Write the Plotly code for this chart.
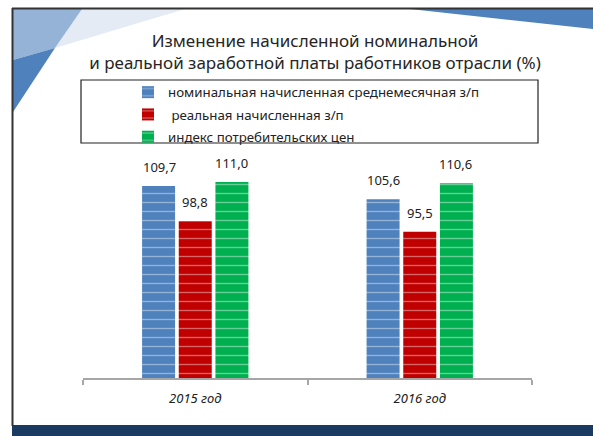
import plotly.graph_objects as go

# Data
categories = ["2015 год", "2016 год"]
series_names = ["номинальная начисленная среднемесячная з/п",
                " реальная начисленная з/п",
                "индекс потребительских цен"]
nominal = [109.7, 105.6]
real = [98.8, 95.5]
cpi = [111.0, 110.6]
values = [nominal, real, cpi]
colors = ["#4f81bd", "#c00000", "#00b050"]

W, H = 593, 436
L, R, T, B = 83, 61, 153, 58


def px_x(p):
    return (p - L) / (W - L - R)


def px_y(p):
    return (H - B - p) / (H - T - B)


fig = go.Figure()
for i, (name, vals, col) in enumerate(zip(series_names, values, colors)):
    fig.add_trace(go.Bar(
        x=categories, y=vals, name=name, legendgroup=str(i),
        marker=dict(color=col, line=dict(width=0),
                    pattern=dict(shape="-", fgcolor="rgba(255,255,255,0.8)",
                                 size=9, solidity=0.15)),
    ))

# data labels above bars
offsets = [-36, 0, 36]
for vals, dx in zip(values, offsets):
    for cat, v in zip(categories, vals):
        fig.add_annotation(x=cat, y=v, xref="x", yref="y", xshift=dx, yshift=8,
                           text=f"{v:.1f}".replace(".", ","), showarrow=False,
                           yanchor="bottom", font=dict(size=13, color="#222222"))

shapes = []
# decorative corner shapes
def poly(pts, color):
    d = "M " + " L ".join(f"{px_x(a):.4f},{px_y(b):.4f}" for a, b in pts) + " Z"
    return dict(type="path", path=d, xref="paper", yref="paper",
                fillcolor=color, line=dict(width=0), layer="below")

shapes.append(poly([(82, 9), (185, 9), (55, 48)], "#e4ebf5"))
shapes.append(poly([(13, 9), (82, 9), (55, 48), (13, 60)], "#95b3d7"))
shapes.append(poly([(13, 60), (55, 48), (13, 112)], "#4f81bd"))
shapes.append(poly([(410, 9), (593, 9), (593, 29)], "#4f81bd"))
# navy bottom band
shapes.append(dict(type="rect", xref="paper", yref="paper",
                   x0=px_x(12), x1=px_x(593), y0=px_y(436), y1=px_y(425),
                   fillcolor="#1b3a61", line=dict(width=0)))
# frame lines
shapes.append(dict(type="line", xref="paper", yref="paper",
                   x0=px_x(12), x1=px_x(593), y0=px_y(8.5), y1=px_y(8.5),
                   line=dict(color="#333333", width=2)))
shapes.append(dict(type="line", xref="paper", yref="paper",
                   x0=px_x(12.5), x1=px_x(12.5), y0=px_y(8), y1=px_y(426),
                   line=dict(color="#333333", width=2)))
# legend frame
shapes.append(dict(type="rect", xref="paper", yref="paper",
                   x0=px_x(81), x1=px_x(538), y0=px_y(143), y1=px_y(80),
                   line=dict(color="#222222", width=1.2)))

fig.update_layout(
    width=W, height=H,
    margin=dict(l=L, r=R, t=T, b=B, autoexpand=False),
    paper_bgcolor="white", plot_bgcolor="white",
    font=dict(family="Noto Sans", color="#222222"),
    title=dict(text="Изменение начисленной номинальной<br>и реальной заработной платы работников отрасли (%)",
               x=315 / W, xanchor="center", xref="container",
               y=1 - 47 / H, yanchor="middle", yref="container",
               font=dict(size=17, color="#262626")),
    barmode="group", bargap=0.51, bargroupgap=0.1,
    showlegend=True,
    legend=dict(xref="container", yref="container", x=128 / W, y=1 - 77 / H,
                xanchor="left", yanchor="top", bgcolor="rgba(0,0,0,0)",
                borderwidth=0, traceorder="grouped", tracegroupgap=2,
                font=dict(size=13.3, color="#222222")),
    xaxis=dict(showline=True, linecolor="#a6a6a6", linewidth=1.5,
               ticks="outside", tickson="boundaries", ticklen=5,
               tickcolor="#a6a6a6", tickwidth=1.5, showgrid=False,
               ticklabelstandoff=8,
               tickfont=dict(size=13, color="#222222", style="italic")),
    yaxis=dict(range=[50, 120], visible=False, showgrid=False),
    shapes=shapes,
)

fig.write_html("out.html", config={"displayModeBar": False},
               post_script="document.body.style.margin='0';")
